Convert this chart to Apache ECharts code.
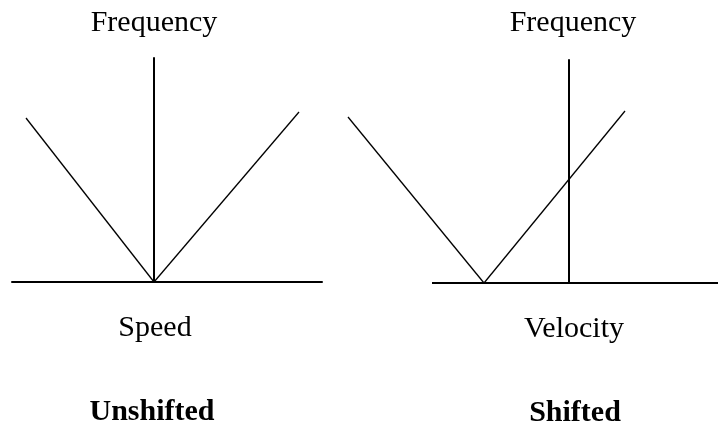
<!DOCTYPE html>
<html>
<head>
    <meta charset="utf-8">
    <title>Unshifted and shifted</title>
    <script src="https://cdn.jsdelivr.net/npm/echarts@6/dist/echarts.min.js"></script>
    <style>
        html, body { margin: 0; padding: 0; background: #fff; }
    </style>
</head>
<body>
    <div id="main" style="width: 718px;height:428px;"></div>

    <script type="text/javascript">
        // units: roughly 10 px of the picture per unit, vertical axis at x = 0
        var leftXRange = [-14.2, 16.8];
        var leftYRange = [0, 22.4];
        var rightXRange = [-22.1, 14.9];
        var rightYRange = [0, 22.3];

        // unshifted: two branches meeting at zero speed
        var unshiftedLeft = [[-12.8, 16.4], [0, 0]];
        var unshiftedRight = [[0, 0], [14.5, 17.0]];

        // shifted: vertex moved to a negative velocity
        var shiftedLeft = [[-22.1, 16.6], [-8.5, 0]];
        var shiftedRight = [[-8.5, 0], [5.6, 17.2]];
        // velocity axis line only starts at -13.7
        var shiftedBase = [[-13.7, 0], [14.9, 0]];

        var axisNames = ['Speed', 'Velocity'];
        var freqName = 'Frequency';
        var panelTitles = ['Unshifted', 'Shifted'];

        var font = '"Liberation Serif", "Times New Roman", serif';
        var myChart = echarts.init(document.getElementById('main'));

        function xAxisFor(idx, range, name, gap, pad, showLine) {
            return {
                type: 'value', gridIndex: idx, min: range[0], max: range[1],
                name: name, nameLocation: 'middle', nameGap: gap,
                nameTextStyle: { fontFamily: font, fontSize: 30, color: '#000', padding: pad },
                axisLine: { show: showLine, lineStyle: { color: '#000', width: 2 } },
                axisTick: { show: false }, axisLabel: { show: false }, splitLine: { show: false }
            };
        }
        function yAxisFor(idx, range, gap, pad) {
            return {
                type: 'value', gridIndex: idx, min: range[0], max: range[1],
                name: freqName, nameLocation: 'end', nameGap: gap,
                nameTextStyle: { fontFamily: font, fontSize: 30, color: '#000', padding: pad },
                axisLine: { onZero: true, lineStyle: { color: '#000', width: 2 } },
                axisTick: { show: false }, axisLabel: { show: false }, splitLine: { show: false }
            };
        }
        function branch(idx, data, width) {
            return {
                type: 'line', xAxisIndex: idx, yAxisIndex: idx, data: data,
                symbol: 'none', silent: true,
                lineStyle: { color: '#000', width: width || 1.3 }
            };
        }

        var option = {
            backgroundColor: '#fff',
            animation: false,
            title: [{
                text: panelTitles[0], left: 147, top: 392, textAlign: 'center',
                textStyle: { fontFamily: font, fontSize: 30, fontWeight: 'bold', color: '#000' }
            }, {
                text: panelTitles[1], left: 570, top: 393, textAlign: 'center',
                textStyle: { fontFamily: font, fontSize: 30, fontWeight: 'bold', color: '#000' }
            }],
            grid: [
                { left: 12, top: 58, width: 310, height: 224 },
                { left: 348, top: 60, width: 370, height: 223 }
            ],
            xAxis: [
                xAxisFor(0, leftXRange, axisNames[0], 31, [0, 24, 0, 0], true),
                xAxisFor(1, rightXRange, axisNames[1], 31, [0, 0, 0, 82], false)
            ],
            yAxis: [
                yAxisFor(0, leftYRange, 20, 0),
                yAxisFor(1, rightYRange, 22, [0, 0, 0, 8])
            ],
            series: [
                branch(0, unshiftedLeft),
                branch(0, unshiftedRight),
                branch(1, shiftedLeft),
                branch(1, shiftedRight),
                branch(1, shiftedBase, 2)
            ]
        };

        myChart.setOption(option);
    </script>
</body>
</html>
